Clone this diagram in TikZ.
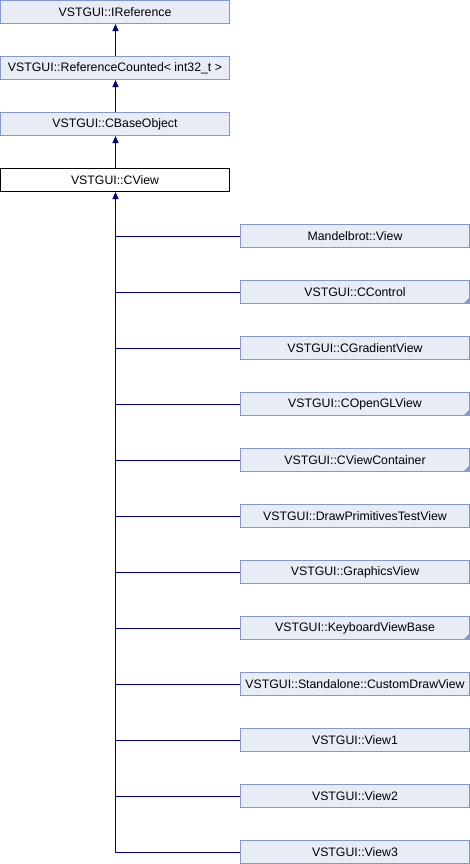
\documentclass[tikz,border=0pt]{standalone}
\usepackage{fontspec}
\setmainfont{Liberation Sans}
\usetikzlibrary{arrows.meta,calc}
\definecolor{boxfill}{RGB}{232,236,245}
\definecolor{boxline}{RGB}{132,152,204}
\definecolor{linkcol}{RGB}{0,0,128}
\tikzset{
  cls/.style={draw=boxline, fill=boxfill, line width=1bp, minimum width=229bp, minimum height=23bp, inner sep=0pt, font=\fontsize{12.3bp}{14bp}\selectfont},
  curcls/.style={cls, draw=black, fill=white},
  link/.style={draw=linkcol, line width=1bp},
  inh/.style={link, -{Triangle[length=7bp,width=6bp]}},
  more/.style={fill=boxline, draw=none}
}
\newcommand{\moremark}[1]{\fill[more] ([xshift=-6.5bp,yshift=0.5bp]#1.south east) -- ([xshift=-0.5bp,yshift=0.5bp]#1.south east) -- ([xshift=-0.5bp,yshift=6.5bp]#1.south east) -- cycle;}
\begin{document}
\begin{tikzpicture}[x=1bp,y=-1bp]
\useasboundingbox (0,0) rectangle (470,864);
\coordinate (tb) at (115.5,852.5);
\node[cls] (iref) at (115,12) {VSTGUI::IReference};
\node[cls] (refc) at (115,68) {VSTGUI::ReferenceCounted< int32\_t >};
\node[cls] (cbase) at (115,124) {VSTGUI::CBaseObject};
\node[curcls] (cview) at (115,180) {VSTGUI::CView};
\draw[inh] (refc.north -| tb) -- (iref.south -| tb);
\draw[inh] (cbase.north -| tb) -- (refc.south -| tb);
\draw[inh] (cview.north -| tb) -- (cbase.south -| tb);
\node[cls] (c0) at (355,236) {Mandelbrot::View};
\node[cls] (c1) at (355,292) {VSTGUI::CControl};
\node[cls] (c2) at (355,348) {VSTGUI::CGradientView};
\node[cls] (c3) at (355,404) {VSTGUI::COpenGLView};
\node[cls] (c4) at (355,460) {VSTGUI::CViewContainer};
\node[cls] (c5) at (355,516) {VSTGUI::DrawPrimitivesTestView};
\node[cls] (c6) at (355,572) {VSTGUI::GraphicsView};
\node[cls] (c7) at (355,628) {VSTGUI::KeyboardViewBase};
\node[cls] (c8) at (355,684) {VSTGUI::Standalone::CustomDrawView};
\node[cls] (c9) at (355,740) {VSTGUI::View1};
\node[cls] (c10) at (355,796) {VSTGUI::View2};
\node[cls] (c11) at (355,852) {VSTGUI::View3};
\moremark{c1}
\moremark{c3}
\moremark{c4}
\moremark{c7}
\draw[inh] (tb) -- (cview.south -| tb);
\foreach \i in {0,...,11} {
  \draw[link] ($(c\i.west -| tb)+(-0.5,0.5)$) -- ($(c\i.west)+(0,0.5)$);
}
\end{tikzpicture}
\end{document}
